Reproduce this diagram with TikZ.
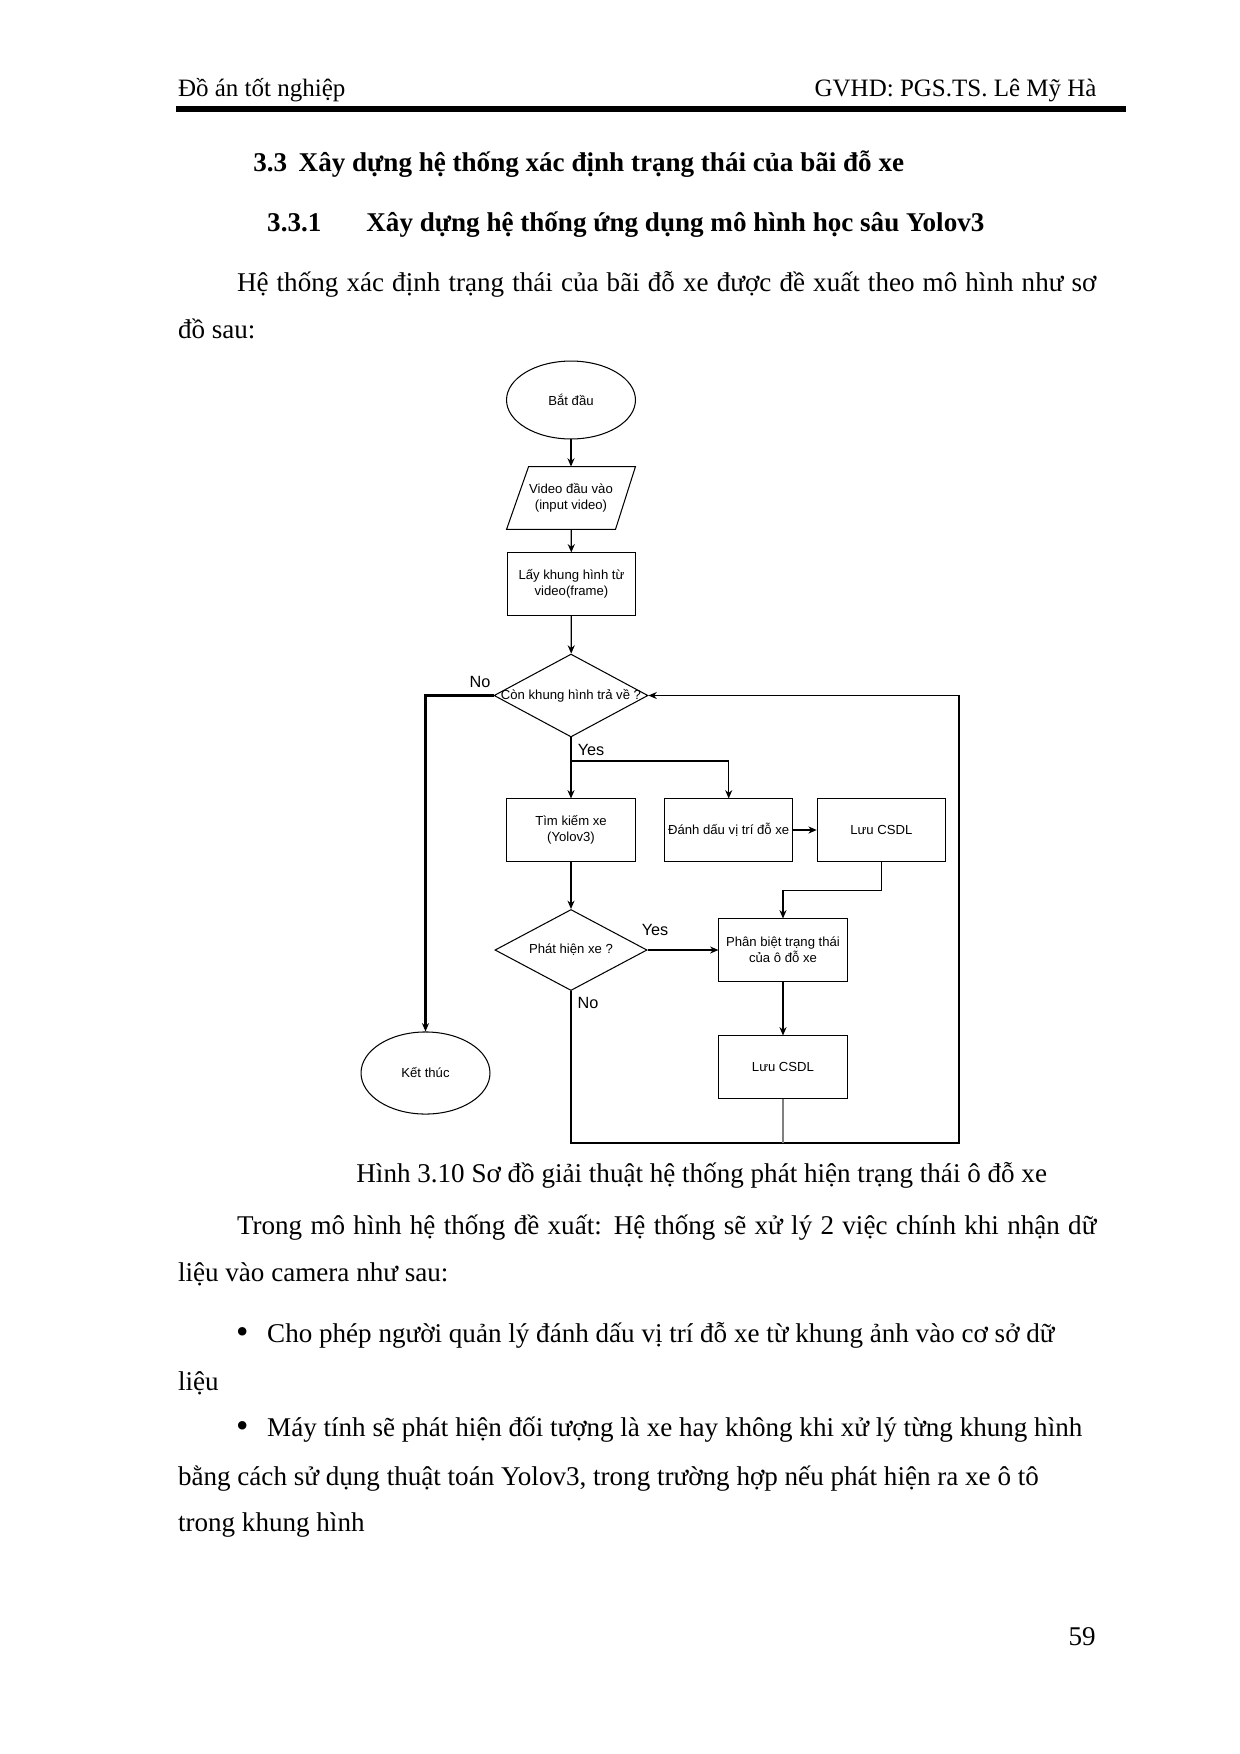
\documentclass[tikz,border=0pt]{standalone}
\usepackage{fontspec}
\setmainfont{Liberation Serif}
\newfontfamily\diagfont{Liberation Sans}
\usetikzlibrary{shapes.geometric,arrows.meta}
\newcommand{\dsmall}{\diagfont\fontsize{6.3}{7.7}\selectfont}
\newcommand{\dlabel}{\diagfont\fontsize{7.8}{9}\selectfont}
\begin{document}
\begin{tikzpicture}[x=0.48pt,y=-0.48pt,
  body/.style={inner sep=0pt,anchor=base west,font=\fontsize{13}{15}\selectfont},
  bodyr/.style={inner sep=0pt,anchor=base east,font=\fontsize{13}{15}\selectfont},
  bul/.style={inner sep=0pt,anchor=center,font=\fontsize{17}{17}\selectfont},
  head/.style={inner sep=0pt,anchor=base west,font=\fontsize{13}{15}\selectfont\bfseries},
  hdr/.style={inner sep=0pt,font=\fontsize{12}{14}\selectfont},
  procbox/.style={draw,rectangle,line width=0.5pt,minimum width=61.5pt,minimum height=29.8pt,inner sep=0pt,align=center,font=\dsmall},
  oval/.style={draw,ellipse,line width=0.5pt,minimum width=61.9pt,inner sep=0pt,font=\dsmall},
  decis/.style={draw,diamond,line width=0.5pt,inner sep=0pt,font=\dsmall},
  lbl/.style={inner sep=0pt,font=\dlabel},
  arr/.style={line width=0.6pt,-{Stealth[length=4pt,width=3.4pt]}},
  ln/.style={line width=0.6pt}
]
\useasboundingbox (0,0) rectangle (1240,1754);

% header
\node[hdr,anchor=base west] (hl) at (177.6,96) {Đồ án tốt nghiệp};
\node[hdr,anchor=base east] (hr) at (1097,96) {GVHD: PGS.TS. Lê Mỹ Hà};
\fill (176,106) rectangle (1126,111.7);

% headings and paragraph
\node[head] (h1) at (253,171.7) {3.3\hspace{5.5pt}Xây dựng hệ thống xác định trạng thái của bãi đỗ xe};
\node[head] (h2a) at (266.8,231.7) {3.3.1};
\node[head] (h2b) at (366,231.7) {Xây dựng hệ thống ứng dụng mô hình học sâu Yolov3};
\node[body] (p1) at (236.6,291.7) {\makebox[412.5pt][s]{Hệ thống xác định trạng thái của bãi đỗ xe được đề xuất theo mô hình như sơ}};
\node[body] (p2) at (177.6,338.3) {đồ sau:};

% flowchart
\node[oval,minimum height=37.4pt] (start) at (571,400) {Bắt đầu};
\node[rectangle,minimum width=61.5pt,minimum height=29.8pt,inner sep=0pt,align=center,font=\dsmall] (in) at (571,498) {Video đầu vào\\(input video)};
\draw[line width=0.5pt] ([xshift=10.6pt]in.north west) -- (in.north east) -- ([xshift=-9.6pt]in.south east) -- (in.south west) -- cycle;
\node[procbox] (frame) at (571.5,584) {Lấy khung hình từ\\video(frame)};
\node[decis,minimum width=73.9pt,minimum height=39.8pt,label={[font=\dsmall]center:Còn khung hình trả về ?}] (d1) at (571,695.5) {};
\node[procbox] (find) at (571,830) {Tìm kiếm xe\\(Yolov3)};
\node[procbox] (mark) at (728.7,830) {Đánh dấu vị trí đỗ xe};
\node[procbox] (save1) at (881.3,830) {Lưu CSDL};
\node[decis,minimum width=73pt,minimum height=38.9pt,label={[font=\dsmall]center:Phát hiện xe ?}] (d2) at (571,950) {};
\node[procbox] (cls) at (783,950) {Phân biệt trạng thái\\của ô đỗ xe};
\node[procbox] (save2) at (783,1067) {Lưu CSDL};
\node[oval,minimum height=39.4pt] (end) at (425.5,1073) {Kết thúc};

\coordinate (br) at (571,761);
\coordinate (loop) at (959,1143);

\draw[arr] (start) -- (in);
\draw[arr] (in) -- (frame);
\draw[arr] (frame) -- (d1);
\draw[arr,line width=1pt] (d1.west) -| (end.north);
\draw[arr] (d1.south) -- (find.north);
\draw[arr] (br) -| (mark.north);
\draw[arr] (mark.east) -- (save1.west);
\draw[arr] (save1.south) -- ++(0,29) -| (cls.north);
\draw[arr] (find.south) -- (d2.north);
\draw[arr] (d2.east) -- (cls.west);
\draw[arr] (cls.south) -- (save2.north);
\draw[arr] (d2.south) |- (loop) |- (d1.east);
\draw[ln,gray] (save2.south) -- (save2.south |- loop);

\node[lbl] (no1) at (480,682) {No};
\node[lbl] (yes1) at (591,750) {Yes};
\node[lbl] (yes2) at (655,930) {Yes};
\node[lbl] (no2) at (588,1003) {No};

% caption and text below
\node[body] (cap) at (356,1182.7) {Hình 3.10 Sơ đồ giải thuật hệ thống phát hiện trạng thái ô đỗ xe};
\node[body] (t1) at (236.6,1234) {\makebox[412.5pt][s]{Trong mô hình hệ thống đề xuất: Hệ thống sẽ xử lý 2 việc chính khi nhận dữ}};
\node[body] (t2) at (177.6,1281.7) {liệu vào camera như sau:};
\node[bul] (b1) at (242.3,1335.7) {•};
\node[body] (t3) at (266.8,1342.7) {Cho phép người quản lý đánh dấu vị trí đỗ xe từ khung ảnh vào cơ sở dữ};
\node[body] (t4) at (177.6,1390) {liệu};
\node[bul] (b2) at (242.3,1429.7) {•};
\node[body] (t5) at (266.8,1436.7) {Máy tính sẽ phát hiện đối tượng là xe hay không khi xử lý từng khung hình};
\node[body] (t6) at (177.6,1485) {bằng cách sử dụng thuật toán Yolov3, trong trường hợp nếu phát hiện ra xe ô tô};
\node[body] (t7) at (177.6,1531.7) {trong khung hình};
\node[bodyr] (pg) at (1096,1645) {59};
\end{tikzpicture}
\end{document}
